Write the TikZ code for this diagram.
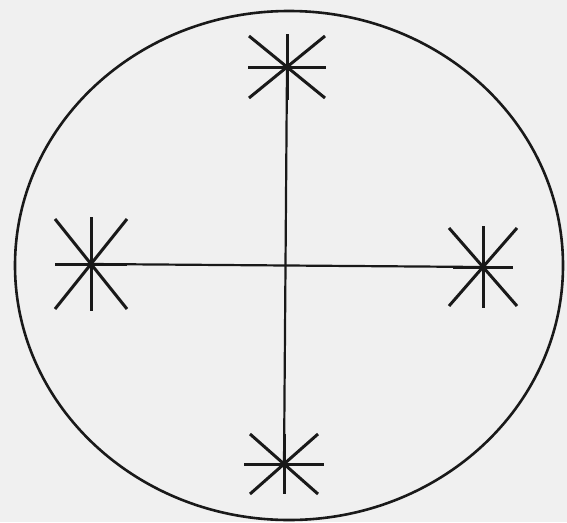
\documentclass[tikz,border=0pt]{standalone}
\usepackage{tikz}

\tikzset{
  starline/.style={line width=3pt,black!90},
  pics/starmark/.style n args={4}{code={
    \draw[starline] (-#1,0) -- (#1,0);
    \draw[starline] (0,-#2) -- (0,#2);
    \draw[starline] (-#3,-#4) -- (#3,#4);
    \draw[starline] (-#3,#4) -- (#3,-#4);
  }}
}

\begin{document}
\begin{tikzpicture}[x=1pt,y=-1pt,
  rim/.style={line width=2.6pt,black!90},
  arm/.style={line width=2.2pt,black!90}]
\fill[black!6] (0,0) rectangle (567,522);
\useasboundingbox (0,0) rectangle (567,522);
% outer ring
\draw[rim] (289,265.5) ellipse [x radius=274, y radius=254.5];
% star centres
\coordinate (top) at (287,67);
\coordinate (bot) at (284,464);
\coordinate (lft) at (91,264);
\coordinate (rgt) at (483,267);
% the cross
\draw[arm] (top) -- (bot);
\draw[arm] (lft) -- (rgt);
% the four stars
\pic at (top) {starmark={39}{33}{38}{31}};
\pic at (lft) {starmark={36}{47}{36}{45}};
\pic at (rgt) {starmark={30}{41}{34}{39}};
\pic at (bot) {starmark={40}{30}{34}{30}};
\end{tikzpicture}
\end{document}
